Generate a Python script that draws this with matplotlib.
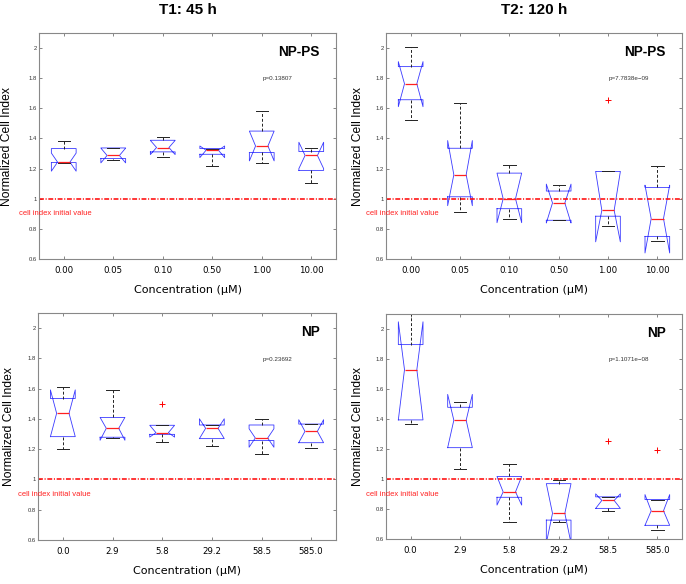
import matplotlib
matplotlib.use('Agg')
import matplotlib.pyplot as plt

# x categories
conc_nps = ['0.00', '0.05', '0.10', '0.50', '1.00', '10.00']
conc_np = ['0.0', '2.9', '5.8', '29.2', '58.5', '585.0']

# T1 45 h, NP-PS
t1_nps_med = [1.243, 1.287, 1.340, 1.322, 1.350, 1.287]
t1_nps_q1 = [1.240, 1.267, 1.311, 1.295, 1.307, 1.188]
t1_nps_q3 = [1.333, 1.337, 1.388, 1.333, 1.449, 1.313]
t1_nps_lo = [1.240, 1.256, 1.278, 1.216, 1.238, 1.102]
t1_nps_hi = [1.386, 1.337, 1.410, 1.333, 1.584, 1.340]
t1_nps_cilo = [1.183, 1.238, 1.293, 1.273, 1.251, 1.200]
t1_nps_cihi = [1.303, 1.336, 1.387, 1.350, 1.449, 1.375]
t1_nps_fliers = [[], [], [], [], [], []]

# T2 120 h, NP-PS
t2_nps_med = [1.763, 1.159, 1.000, 0.972, 0.923, 0.868]
t2_nps_q1 = [1.657, 1.013, 0.934, 0.857, 0.884, 0.750]
t2_nps_q3 = [1.877, 1.335, 1.170, 1.051, 1.181, 1.075]
t2_nps_lo = [1.525, 0.914, 0.864, 0.857, 0.818, 0.722]
t2_nps_hi = [2.007, 1.633, 1.227, 1.088, 1.181, 1.216]
t2_nps_cilo = [1.611, 0.954, 0.841, 0.839, 0.714, 0.640]
t2_nps_cihi = [1.910, 1.386, 1.170, 1.097, 1.180, 1.090]
t2_nps_fliers = [[], [], [], [], [1.657], []]

# T1 45 h, NP
t1_np_med = [1.437, 1.338, 1.309, 1.338, 1.274, 1.318]
t1_np_q1 = [1.283, 1.279, 1.298, 1.270, 1.257, 1.243]
t1_np_q3 = [1.535, 1.410, 1.358, 1.360, 1.360, 1.366]
t1_np_lo = [1.204, 1.274, 1.246, 1.222, 1.171, 1.210]
t1_np_hi = [1.612, 1.588, 1.358, 1.360, 1.399, 1.366]
t1_np_cilo = [1.283, 1.259, 1.280, 1.270, 1.213, 1.243]
t1_np_cihi = [1.592, 1.410, 1.358, 1.401, 1.335, 1.395]
t1_np_fliers = [[], [], [1.496], [], [], []]

# T2 120 h, NP
t2_np_med = [1.729, 1.392, 0.914, 0.771, 0.857, 0.788]
t2_np_q1 = [1.394, 1.209, 0.878, 0.726, 0.804, 0.691]
t2_np_q3 = [1.896, 1.478, 1.017, 0.969, 0.881, 0.863]
t2_np_lo = [1.364, 1.066, 0.713, 0.716, 0.786, 0.663]
t2_np_hi = [2.250, 1.515, 1.097, 0.993, 0.881, 0.863]
t2_np_cilo = [1.394, 1.209, 0.826, 0.573, 0.804, 0.691]
t2_np_cihi = [2.048, 1.564, 1.017, 0.969, 0.901, 0.896]
t2_np_fliers = [[], [], [], [], [1.253], [1.194]]

p_values = ['p=0.13807', 'p=7.7838e\u221209', 'p=0.23692', 'p=1.1071e\u221208']
titles = ['T1: 45 h', 'T2: 120 h']
yticks = [0.6, 0.8, 1.0, 1.2, 1.4, 1.6, 1.8, 2.0]
ytick_labels = ['0.6', '0.8', '1', '1.2', '1.4', '1.6', '1.8', '2']

W, H = 686, 584


def make_stats(med, q1, q3, lo, hi, cilo, cihi, fliers):
    stats = []
    for i in range(len(med)):
        stats.append(dict(med=med[i], q1=q1[i], q3=q3[i], whislo=lo[i],
                          whishi=hi[i], cilo=cilo[i], cihi=cihi[i],
                          fliers=fliers[i]))
    return stats


def draw_panel(ax, stats, cats, label, ptext, px, ylab_x):
    ax.bxp(stats, positions=range(1, 7), widths=0.5, capwidths=0.25,
           shownotches=True, showfliers=True,
           boxprops=dict(color='#3a3aff', lw=0.6),
           whiskerprops=dict(color='#222222', lw=0.7, linestyle=(0, (3, 2))),
           capprops=dict(color='#222222', lw=0.7),
           medianprops=dict(color='#ff2020', lw=0.9),
           flierprops=dict(marker='+', markeredgecolor='red', markersize=4,
                           markeredgewidth=0.7))
    # initial value reference line
    ax.axhline(1.0, color='red', lw=1.1, dashes=(3.2, 1.1, 0.7, 1.1))
    ax.set_xlim(0.5, 6.5)
    ax.set_ylim(0.6, 2.1)
    ax.set_xticks(range(1, 7))
    ax.set_xticklabels(cats, fontsize=6.2, family='DejaVu Sans')
    ax.set_yticks(yticks)
    ax.set_yticklabels(ytick_labels, fontsize=4.2, color='#333333',
                       family='Liberation Sans')
    ax.tick_params(axis='x', direction='in', top=True, length=2.5,
                   width=0.5, color='#555555', pad=5)
    ax.tick_params(axis='y', direction='in', right=True, length=2.5,
                   width=0.5, color='#555555', pad=1.5)
    for s in ax.spines.values():
        s.set_color('#888888')
        s.set_linewidth(0.8)
    ax.set_xlabel('Concentration (\u00b5M)', fontsize=8, family='DejaVu Sans')
    ax.xaxis.set_label_coords(0.5, -0.115)
    ax.set_ylabel('Normalized Cell Index', fontsize=8.7, family='Liberation Sans')
    ax.yaxis.set_label_coords(ylab_x, 0.5)
    ax.text(0.945, 1.975, label, transform=ax.get_yaxis_transform(),
            ha='right', va='center', fontsize=9.8, fontweight='bold',
            family='Liberation Sans')
    ax.text(px, 1.795, ptext, transform=ax.get_yaxis_transform(),
            ha='center', va='center', fontsize=4.5, color='#333333',
            family='Liberation Sans')
    ax.text(-0.067, 0.9, 'cell index initial value',
            transform=ax.get_yaxis_transform(), ha='left', va='center',
            fontsize=5.5, color='#ff2020', family='Liberation Sans',
            clip_on=False)


fig = plt.figure(figsize=(W / 100, H / 100), dpi=100)

# axes boxes in pixels: left, right, top, bottom
boxes = [(39, 336, 33, 259), (386, 682, 33, 259),
         (38, 336, 313, 540), (386, 682, 314, 539)]
axes = []
for l, r, t, b in boxes:
    axes.append(fig.add_axes([l / W, 1 - b / H, (r - l) / W, (b - t) / H]))

draw_panel(axes[0], make_stats(t1_nps_med, t1_nps_q1, t1_nps_q3, t1_nps_lo,
                               t1_nps_hi, t1_nps_cilo, t1_nps_cihi, t1_nps_fliers),
           conc_nps, 'NP-PS', p_values[0], 0.803, -0.087)
draw_panel(axes[1], make_stats(t2_nps_med, t2_nps_q1, t2_nps_q3, t2_nps_lo,
                               t2_nps_hi, t2_nps_cilo, t2_nps_cihi, t2_nps_fliers),
           conc_nps, 'NP-PS', p_values[1], 0.82, -0.074)
draw_panel(axes[2], make_stats(t1_np_med, t1_np_q1, t1_np_q3, t1_np_lo,
                               t1_np_hi, t1_np_cilo, t1_np_cihi, t1_np_fliers),
           conc_np, 'NP', p_values[2], 0.804, -0.078)
draw_panel(axes[3], make_stats(t2_np_med, t2_np_q1, t2_np_q3, t2_np_lo,
                               t2_np_hi, t2_np_cilo, t2_np_cihi, t2_np_fliers),
           conc_np, 'NP', p_values[3], 0.82, -0.074)

fig.text(187.5 / W, 1 - 10 / H, titles[0], ha='center', va='center',
         fontsize=11, fontweight='bold', family='Liberation Sans')
fig.text(534 / W, 1 - 10 / H, titles[1], ha='center', va='center',
         fontsize=11, fontweight='bold', family='Liberation Sans')

fig.savefig('out.png', dpi=100, facecolor='white')
